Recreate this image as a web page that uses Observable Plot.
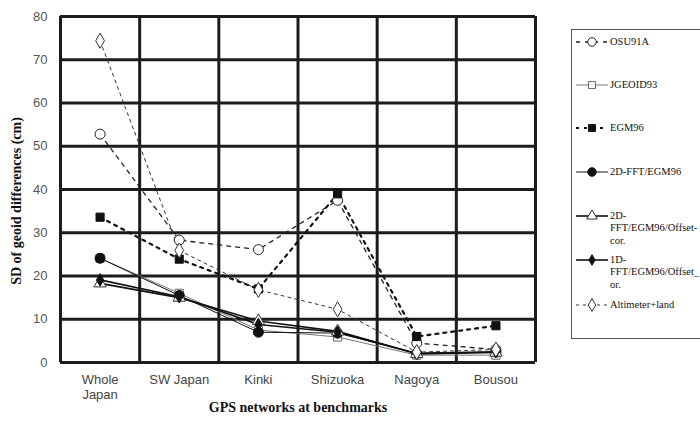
<!DOCTYPE html>
<html><head><meta charset="utf-8">
<script src="https://cdn.jsdelivr.net/npm/d3@7"></script>
<script src="https://cdn.jsdelivr.net/npm/@observablehq/plot@0.6"></script>
<style>
body{margin:0;background:#fff;}
#wrap{position:relative;width:700px;height:422px;overflow:hidden;background:#fff;}
#legend{position:absolute;left:571px;top:29px;width:150px;height:308px;border:1px solid #555;font-family:"Liberation Serif",serif;font-size:10.5px;color:#111;}
.item{position:absolute;left:2px;}
.item svg{position:absolute;left:0;top:0;}
.item .lab{position:absolute;left:36px;top:0;line-height:12.5px;white-space:nowrap;}
#ytitle{position:absolute;left:17px;top:201px;transform:translate(-50%,-50%) rotate(-90deg);white-space:nowrap;font-family:"Liberation Serif",serif;font-weight:bold;font-size:14px;color:#111;}
</style>
</head><body>
<div id="wrap"><div id="chart"></div><div id="legend"></div><div id="ytitle"></div></div>
<script>
const categories = ["Whole Japan", "SW Japan", "Kinki", "Shizuoka", "Nagoya", "Bousou"];
const categoryLabels = ["Whole\nJapan", "SW Japan", "Kinki", "Shizuoka", "Nagoya", "Bousou"];
const yTicks = [0, 10, 20, 30, 40, 50, 60, 70, 80];
const yTitle = "SD of geoid differences (cm)";
const xTitle = "GPS networks at benchmarks";

const osu91a      = [52.8, 28.3, 26.1, 37.5, 4.5, 3.0];
const jgeoid93    = [24.1, 16.0, 7.5, 5.9, 1.7, 1.7];
const egm96       = [33.6, 23.9, 17.0, 39.0, 6.0, 8.5];
const fft2d       = [24.1, 15.5, 7.0, 6.8, 2.1, 2.4];
const fft2dOffset = [18.3, 15.0, 9.6, 7.2, 2.0, 2.3];
const fft1dOffset = [19.1, 15.2, 8.8, 7.0, 2.1, 2.5];
const altimeter   = [74.4, 25.9, 16.8, 12.3, 2.4, 3.0];

const legendLabels = [
  ["OSU91A"],
  ["JGEOID93"],
  ["EGM96"],
  ["2D-FFT/EGM96"],
  ["2D-", "FFT/EGM96/Offset-", "cor."],
  ["1D-", "FFT/EGM96/Offset_", "or."],
  ["Altimeter+land"]
];
const legendTops = [12, 55, 98, 142, 186, 230, 275];

const series = [
  {values: osu91a,      stroke: "#222", width: 1.3, dash: "4,5", symbol: "circle",   fill: "#fff", mstroke: "#222", r: 5},
  {values: jgeoid93,    stroke: "#777", width: 1.0, dash: null,  symbol: "square",   fill: "#fff", mstroke: "#666", r: 4.6},
  {values: egm96,       stroke: "#111", width: 2.2, dash: "3,5", symbol: "square",   fill: "#111", mstroke: "#111", r: 4.6},
  {values: fft2d,       stroke: "#111", width: 1.0, dash: null,  symbol: "circle",   fill: "#111", mstroke: "#111", r: 5},
  {values: fft2dOffset, stroke: "#111", width: 1.6, dash: null,  symbol: "triangle", fill: "#fff", mstroke: "#333", r: 4.6},
  {values: fft1dOffset, stroke: "#111", width: 1.6, dash: null,  symbol: "diamond",  fill: "#111", mstroke: "#111", r: 3.8},
  {values: altimeter,   stroke: "#333", width: 1.0, dash: "3,4", symbol: "diamond",  fill: "#fff", mstroke: "#333", r: 4.6}
];

const idx = categories.map((d, i) => i);
const bounds = d3.range(-0.5, categories.length, 1);

const marks = [
  Plot.ruleY(yTicks, {stroke: "#1c1c1c", strokeWidth: 3}),
  Plot.ruleX(bounds, {stroke: "#1c1c1c", strokeWidth: 3}),
];
for (const s of series) {
  marks.push(Plot.line(idx, {x: d => d, y: d => s.values[d], stroke: s.stroke, strokeWidth: s.width, strokeDasharray: s.dash}));
}
for (const s of series) {
  marks.push(Plot.dot(idx, {x: d => d, y: d => s.values[d], symbol: s.symbol, fill: s.fill, stroke: s.mstroke, strokeWidth: 1, r: s.r}));
}
marks.push(Plot.text(categoryLabels, {x: (d, i) => i, frameAnchor: "bottom", dy: 11, lineAnchor: "top", lineHeight: 1.15, text: d => d, fill: "#444", fontSize: 13, fontFamily: "Liberation Sans, Arial, sans-serif"}));
marks.push(Plot.text([xTitle], {frameAnchor: "bottom", dy: 49, text: d => d, fill: "#111", fontSize: 14, fontWeight: "bold", fontFamily: "Liberation Serif, serif"}));

const chart = Plot.plot({
  width: 700, height: 422,
  marginLeft: 60, marginRight: 165, marginTop: 16, marginBottom: 60,
  style: {fontFamily: "Liberation Sans, Arial, sans-serif", fontSize: "13px", color: "#555", background: "#fff"},
  x: {domain: [-0.5, categories.length - 0.5], axis: null},
  y: {domain: [0, 80], ticks: yTicks, tickSize: 0, tickPadding: 13, label: null, tickFormat: d => String(d)},
  marks
});
document.getElementById("chart").appendChild(chart);
document.getElementById("ytitle").textContent = yTitle;

// legend
const legend = document.getElementById("legend");
const symMap = {circle: d3.symbolCircle, square: d3.symbolSquare, triangle: d3.symbolTriangle, diamond: d3.symbolDiamond};
series.forEach((s, i) => {
  const item = document.createElement("div");
  item.className = "item";
  item.style.top = (legendTops[i] - 7) + "px";
  const area = Math.PI * (s.r * 0.85) ** 2;
  const path = d3.symbol(symMap[s.symbol], area)();
  const svg = `<svg width="36" height="14" viewBox="0 0 36 14"><line x1="2" x2="34" y1="7" y2="7" stroke="${s.stroke}" stroke-width="${s.width}" ${s.dash ? `stroke-dasharray="${s.dash}"` : ""}/><path transform="translate(18,7)" d="${path}" fill="${s.fill}" stroke="${s.mstroke}" stroke-width="1"/></svg>`;
  item.innerHTML = svg + `<div class="lab" style="top:0.5px">${legendLabels[i].join("<br>")}</div>`;
  legend.appendChild(item);
});
</script>
</body></html>
